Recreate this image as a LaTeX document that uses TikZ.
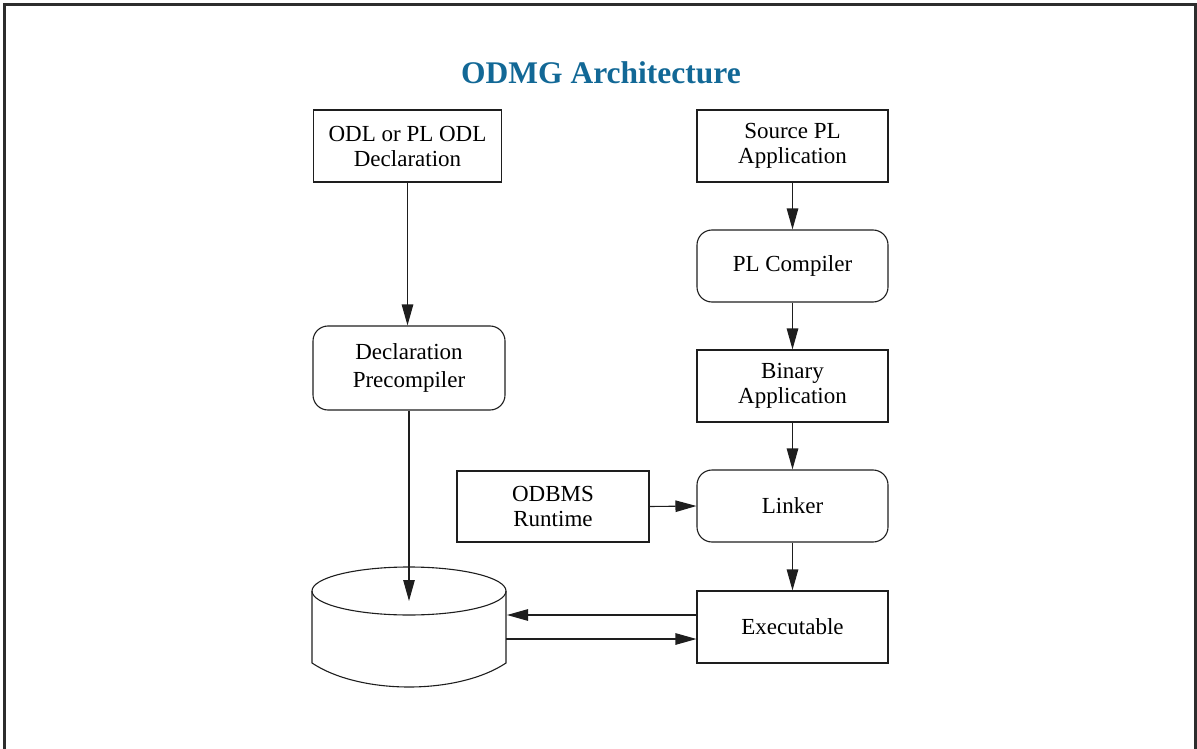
\documentclass[tikz,border=0pt]{standalone}
\usepackage{fontspec}
\setmainfont{Liberation Serif}
\usetikzlibrary{arrows.meta}
\definecolor{titleblue}{RGB}{18,104,150}
\definecolor{framegray}{RGB}{45,45,45}
\definecolor{linegray}{RGB}{30,30,30}
\tikzset{
  box/.style={draw=linegray, line width=1.1pt, minimum width=191pt, minimum height=72pt,
    align=center, inner sep=0pt, font=\fontsize{23}{25}\selectfont},
  rbox/.style={box, rounded corners=15pt},
  arr/.style={draw=linegray, line width=1.1pt, -{Triangle[length=21pt,width=11.5pt]}},
  outline/.style={draw=linegray, line width=1.1pt}
}
\begin{document}
\begin{tikzpicture}[x=1pt, y=-1pt]
  \useasboundingbox (0,0) rectangle (1197,749);
  % page frame, open at the bottom
  \draw[line width=2.4pt, framegray] (4.5,760) -- (4.5,4.5) -- (1195.5,4.5) -- (1195.5,760);

  % title
  \node[anchor=base, text=titleblue, font=\fontsize{31.5}{36}\selectfont\bfseries]
    (title) at (601,84) {ODMG Architecture};

  % left column
  \node[box, minimum width=188pt] (odl) at (407.5,146) {ODL or PL ODL\\Declaration};
  \node[rbox, minimum width=192pt, minimum height=84pt,
        font=\fontsize{23}{28}\selectfont] (pre) at (409,368) {Declaration\\Precompiler};

  % database cylinder
  \draw[outline] (409,591) ellipse [x radius=97, y radius=24];
  \draw[outline] (312,591) -- (312,663)
    .. controls (360,695) and (458,695) .. (506,663) -- (506,591);
  \coordinate (dbin) at (409,601);
  \coordinate (dbr1) at (507,615);
  \coordinate (dbr2) at (506,639);

  % right column
  \node[box] (src) at (792.5,146) {Source PL\\Application};
  \node[rbox] (plc) at (792.5,266) {PL Compiler};
  \node[box] (bin) at (792.5,386) {Binary\\Application};
  \node[rbox] (lnk) at (792.5,506) {Linker};
  \node[box] (exe) at (792.5,627) {Executable};
  \node[box, minimum width=192pt, minimum height=71pt] (odbms) at (553,506.5) {ODBMS\\Runtime};

  % connectors
  \draw[arr] (odl.south) -- (odl.south |- pre.north);
  \draw[arr] (pre.south) -- (dbin);
  \draw[arr] (src) -- (plc);
  \draw[arr] (plc) -- (bin);
  \draw[arr] (bin) -- (lnk);
  \draw[arr] (lnk) -- (exe);
  \draw[arr] (odbms.east) -- (lnk.west);
  \draw[arr] (exe.west |- dbr1) -- (dbr1);
  \draw[arr] (dbr2) -- (exe.west |- dbr2);
\end{tikzpicture}
\end{document}
